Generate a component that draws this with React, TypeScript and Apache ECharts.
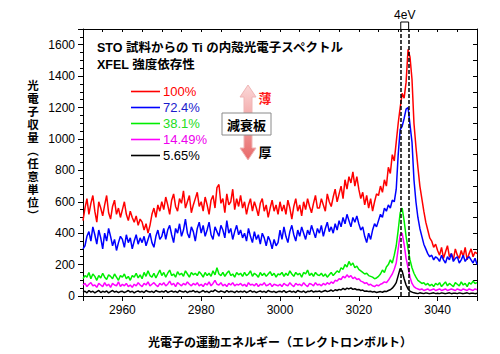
import React, { useEffect, useRef } from "react";
import * as echarts from "echarts";

// Energy grid (eV)
const energyStart = 2950;
const energyStep = 0.5;

// Photoelectron yield for each XFEL intensity
const yield100 = [
  480, 560, 620, 520, 590, 640, 540, 470, 600, 560, 510, 580, 640, 530, 490, 570, 610, 520, 560, 500,
  550, 600, 520, 480, 540, 500, 470, 510, 450, 490, 470, 420, 460, 400, 450, 520, 560, 500, 580, 540,
  600, 550, 630, 580, 520, 610, 650, 570, 540, 620, 590, 670, 560, 600, 640, 530, 580, 620, 660, 570,
  600, 540, 630, 580, 520, 610, 640, 560, 690, 710, 590, 620, 530, 650, 580, 600, 680, 550, 620, 570,
  640, 560, 600, 520, 580, 620, 540, 600, 560, 510, 590, 620, 540, 580, 500, 560, 610, 540, 580, 520,
  600, 540, 580, 520, 610, 560, 490, 570, 620, 540, 580, 510, 600, 550, 620, 570, 530, 590, 640, 560,
  560, 620, 580, 540, 650, 600, 570, 630, 680, 600, 650, 700, 620, 740, 680, 760, 720, 790, 700, 760,
  680, 620, 660, 580, 640, 560, 620, 540, 600, 650, 640, 700, 660, 740, 700, 820, 780, 900, 860, 980,
  1100, 1200, 1290, 1260, 1360, 1570, 1520, 1380, 1100, 950, 820, 700, 620, 540, 470, 420, 370, 350, 310, 330,
  290, 260, 310, 240, 280, 320, 250, 270, 230, 300, 260, 240, 290, 250, 310, 230, 270, 300, 250, 280,
  270,
];
const yield724 = [
  300, 320, 380, 410, 350, 440, 390, 330, 420, 370, 300, 400, 350, 430, 380, 320, 360, 290, 340, 380,
  360, 310, 390, 340, 370, 300, 350, 390, 330, 370, 340, 380, 320, 360, 400, 340, 310, 380, 420, 360,
  380, 430, 360, 420, 450, 390, 340, 430, 400, 460, 380, 420, 490, 400, 370, 440, 410, 350, 430, 470,
  400, 450, 380, 420, 470, 390, 360, 440, 410, 380, 450, 420, 370, 480, 400, 430, 360, 410, 450, 390,
  420, 370, 400, 350, 430, 380, 340, 410, 360, 390, 330, 400, 370, 320, 380, 350, 300, 360, 320, 340,
  420, 360, 440, 380, 340, 410, 450, 390, 350, 420, 380, 440, 400, 360, 420, 390, 450, 410, 370, 430,
  400, 450, 380, 430, 470, 410, 440, 400, 460, 420, 480, 440, 500, 460, 520, 480, 440, 500, 470, 510,
  460, 420, 440, 380, 340, 400, 360, 420, 460, 440, 480, 520, 500, 560, 540, 580, 560, 610, 600, 680,
  900, 1060, 1080, 1130, 1190, 1200, 1090, 980, 740, 600, 500, 430, 380, 330, 300, 270, 250, 260, 230, 250,
  240, 220, 260, 230, 210, 250, 230, 270, 220, 240, 250, 210, 230, 260, 220, 240, 250, 230, 210, 240,
  200,
];
const yield381 = [
  110, 130, 120, 150, 110, 140, 125, 100, 130, 115, 145, 120, 105, 135, 125, 110, 140, 120, 100, 130,
  120, 140, 110, 125, 100, 130, 120, 145, 115, 135, 110, 150, 125, 160, 130, 120, 145, 115, 140, 165,
  130, 150, 120, 145, 165, 130, 140, 120, 155, 135, 145, 125, 160, 140, 120, 150, 135, 145, 130, 155,
  140, 120, 150, 130, 145, 125, 160, 135, 180, 140, 130, 150, 125, 145, 160, 130, 140, 120, 150, 135,
  145, 125, 150, 130, 140, 160, 125, 145, 135, 120, 150, 130, 145, 125, 140, 155, 130, 145, 120, 140,
  135, 150, 125, 145, 130, 160, 140, 125, 150, 135, 145, 120, 150, 140, 165, 130, 145, 125, 150, 135,
  130, 145, 125, 140, 120, 135, 150, 130, 145, 160, 150, 180, 170, 200, 185, 220, 195, 210, 180, 190,
  170, 160, 150, 140, 145, 130, 125, 120, 110, 115, 125, 140, 165, 150, 185, 200, 230, 210, 260, 320,
  420, 530, 560, 480, 380, 300, 230, 180, 145, 120, 100, 90, 80, 85, 70, 80, 65, 75, 60, 80,
  70, 85, 60, 75, 90, 65, 80, 70, 60, 85, 75, 65, 90, 70, 80, 60, 85, 75, 95, 80,
  85,
];
const yield1449 = [
  70, 80, 60, 75, 85, 65, 70, 55, 80, 70, 60, 85, 65, 75, 55, 80, 70, 65, 90, 60,
  75, 65, 80, 60, 70, 55, 75, 65, 85, 70, 60, 80, 70, 90, 65, 75, 85, 70, 60, 80,
  70, 85, 65, 75, 95, 70, 80, 60, 85, 75, 65, 80, 70, 90, 75, 65, 80, 70, 85, 65,
  75, 60, 80, 70, 90, 65, 80, 100, 75, 70, 85, 65, 75, 60, 80, 70, 85, 65, 75, 70,
  80, 65, 75, 60, 85, 70, 75, 65, 80, 60, 75, 70, 85, 65, 70, 80, 60, 75, 70, 65,
  75, 60, 80, 70, 65, 85, 70, 60, 80, 70, 75, 65, 85, 70, 60, 80, 75, 65, 85, 70,
  75, 65, 80, 70, 85, 75, 90, 80, 100, 95, 110, 105, 125, 115, 135, 120, 130, 110, 120, 105,
  110, 95, 90, 80, 85, 70, 75, 65, 60, 70, 65, 75, 80, 90, 85, 100, 120, 140, 170, 210,
  300, 390, 400, 330, 240, 180, 120, 80, 60, 50, 45, 40, 45, 35, 40, 45, 35, 40, 45, 35,
  40, 45, 35, 40, 45, 35, 40, 45, 40, 35, 45, 40, 35, 45, 40, 35, 45, 40, 35, 45,
  40,
];
const yield565 = [
  25, 30, 20, 35, 25, 30, 20, 28, 35, 22, 30, 25, 32, 20, 28, 35, 25, 30, 22, 28,
  30, 22, 28, 35, 25, 30, 20, 28, 32, 25, 30, 22, 35, 28, 25, 30, 22, 35, 28, 25,
  30, 25, 35, 22, 28, 32, 25, 30, 22, 35, 28, 25, 32, 22, 30, 28, 35, 25, 30, 22,
  28, 35, 25, 30, 22, 32, 28, 40, 30, 25, 32, 28, 22, 35, 25, 30, 28, 22, 32, 25,
  30, 25, 32, 22, 28, 35, 25, 30, 22, 28, 32, 25, 30, 22, 35, 28, 25, 30, 22, 28,
  30, 25, 35, 22, 28, 32, 25, 30, 22, 35, 28, 25, 32, 22, 30, 28, 35, 25, 30, 28,
  32, 25, 30, 35, 28, 32, 38, 30, 40, 35, 42, 38, 48, 40, 50, 45, 52, 42, 46, 40,
  42, 35, 38, 30, 32, 28, 30, 25, 28, 22, 25, 28, 24, 30, 28, 35, 40, 50, 65, 85,
  130, 175, 160, 110, 70, 45, 30, 25, 20, 18, 15, 20, 18, 15, 20, 17, 15, 18, 20, 15,
  18, 15, 20, 17, 15, 18, 20, 15, 17, 18, 15, 20, 17, 15, 18, 20, 15, 17, 18, 15,
  17,
];

const seriesNames = ["100%", "72.4%", "38.1%", "14.49%", "5.65%"];
const seriesValues = [yield100, yield724, yield381, yield1449, yield565];
const seriesColors = ["#ff0000", "#0000ff", "#00ee00", "#ff00ff", "#000000"];
const legendTextColors = ["#ff0000", "#1a1acc", "#22dd22", "#ee00ee", "#000000"];

const xTickLabels = [2960, 2980, 3000, 3020, 3040];
const yTickLabels = [0, 200, 400, 600, 800, 1000, 1200, 1400, 1600];
const markEnergies = [3030.65, 3032.65];

const titleLine1 = "STO 試料からの Ti の内殻光電子スペクトル";
const titleLine2 = "XFEL 強度依存性";
const yAxisName = ["光", "電", "子", "収", "量", "︵", "任", "意", "単", "位", "︶"];
const xAxisName = "光電子の運動エネルギー（エレクトロンボルト）";

const CJK = "'Noto Sans CJK JP', 'Noto Sans', sans-serif";
const LATIN = "'Liberation Sans', Arial, sans-serif";
const COMPACT = "'Liberation Sans', 'Noto Sans CJK JP', sans-serif";

export default function App() {
  const ref = useRef<HTMLDivElement>(null);

  useEffect(() => {
    document.body.style.margin = "0";
    if (!ref.current) return;
    const chart = echarts.init(ref.current, undefined, { renderer: "svg" });

    const axisLine = { show: true, onZero: false, lineStyle: { color: "#000", width: 1 } };
    const xBase = { type: "value", min: 2950, max: 3050, splitLine: { show: false } };
    const yBase = { type: "value", min: 0, max: 1700, splitLine: { show: false } };

    const series: any[] = seriesNames.map((name, si) => ({
      name,
      type: "line",
      xAxisIndex: 0,
      yAxisIndex: 0,
      symbol: "none",
      showSymbol: false,
      color: seriesColors[si],
      lineStyle: { color: seriesColors[si], width: 1.5 },
      data: seriesValues[si].map((v, i) => [energyStart + i * energyStep, v]),
      z: 2 + si,
    }));
    series[series.length - 1].markLine = {
      silent: true,
      symbol: ["none", "none"],
      label: { show: false },
      lineStyle: { color: "#000", type: [4, 2], width: 1.5 },
      data: markEnergies.map((x) => ({ xAxis: x })),
      z: 10,
    };

    chart.setOption({
      animation: false,
      grid: { left: 83, right: 23, top: 29, bottom: 58, containLabel: false },
      xAxis: [
        {
          ...xBase,
          position: "bottom",
          interval: 5,
          axisLine,
          axisTick: { show: true, length: 3, lineStyle: { color: "#000" } },
          axisLabel: {
            show: true,
            margin: 8,
            fontSize: 12,
            color: "#000",
            fontFamily: LATIN,
            formatter: (v: number) => (xTickLabels.includes(v) ? String(v) : ""),
          },
          name: xAxisName,
          nameLocation: "middle",
          nameGap: 39,
          nameTextStyle: { fontSize: 12, fontWeight: "bold", color: "#000", fontFamily: CJK },
        },
        {
          ...xBase,
          position: "bottom",
          splitNumber: 5,
          axisLine: { show: false, onZero: false },
          axisTick: { show: true, length: 5, lineStyle: { color: "#000" } },
          axisLabel: { show: false },
        },
        {
          ...xBase,
          position: "top",
          interval: 5,
          axisLine,
          axisTick: { show: true, inside: true, length: 3, lineStyle: { color: "#000" } },
          axisLabel: { show: false },
        },
      ],
      yAxis: [
        {
          ...yBase,
          position: "left",
          interval: 50,
          axisLine,
          axisTick: { show: true, length: 3, lineStyle: { color: "#000" } },
          axisLabel: {
            show: true,
            margin: 8,
            fontSize: 12,
            color: "#000",
            fontFamily: LATIN,
            formatter: (v: number) => (yTickLabels.includes(v) ? String(v) : ""),
          },
        },
        {
          ...yBase,
          position: "left",
          interval: 200,
          axisLine: { show: false, onZero: false },
          axisTick: { show: true, length: 5, lineStyle: { color: "#000" } },
          axisLabel: { show: false },
        },
        {
          ...yBase,
          position: "right",
          interval: 100,
          axisLine,
          axisTick: { show: true, inside: true, length: 4, lineStyle: { color: "#000" } },
          axisLabel: { show: false },
        },
      ],
      legend: {
        orient: "vertical",
        left: 126,
        top: 80,
        padding: 5,
        icon: "rect",
        itemWidth: 29,
        itemHeight: 1.6,
        itemGap: 3,
        selectedMode: false,
        textStyle: { fontSize: 13, fontFamily: LATIN, lineHeight: 13, padding: [0, 0, 0, -2] },
        data: seriesNames.map((n, i) => ({ name: n, textStyle: { color: legendTextColors[i] } })),
      },
      series,
    });

    const xa = chart.convertToPixel({ xAxisIndex: 0 }, markEnergies[0]) as number;
    const xb = chart.convertToPixel({ xAxisIndex: 0 }, markEnergies[1]) as number;
    const yTop = chart.convertToPixel({ yAxisIndex: 0 }, 1700) as number;

    const cx = 248;
    const nameTop = 86;
    const nameStep = 13;
    chart.setOption({
      graphic: [
        {
          type: "text",
          x: 97,
          y: 48,
          style: { text: titleLine1, font: `bold 12.5px ${COMPACT}`, fill: "#000", verticalAlign: "middle" },
        },
        {
          type: "text",
          x: 97,
          y: 65,
          style: { text: titleLine2, font: `bold 12.5px ${COMPACT}`, fill: "#000", verticalAlign: "middle" },
        },
        {
          type: "polygon",
          shape: {
            points: [
              [cx, 85], [cx + 8, 97], [cx + 4, 97], [cx + 4, 148], [cx + 8, 148],
              [cx, 160], [cx - 8, 148], [cx - 4, 148], [cx - 4, 97], [cx - 8, 97],
            ],
          },
          style: {
            fill: {
              type: "linear", x: 0, y: 0, x2: 0, y2: 1,
              colorStops: [
                { offset: 0, color: "#fbd9d9" },
                { offset: 1, color: "#e86868" },
              ],
            },
            stroke: "#efb5b5",
            lineWidth: 1,
          },
          z: 50,
        },
        {
          type: "rect",
          shape: { x: 222, y: 113, width: 49, height: 22 },
          style: { fill: "#fff", stroke: "#8a8a8a", lineWidth: 1 },
          z: 51,
        },
        {
          type: "text",
          x: 246.5,
          y: 124.5,
          style: { text: "減衰板", font: `bold 13px ${CJK}`, fill: "#000", align: "center", verticalAlign: "middle" },
          z: 52,
        },
        {
          type: "text",
          x: 265,
          y: 97,
          style: { text: "薄", font: `bold 13px ${CJK}`, fill: "#ff1a1a", align: "center", verticalAlign: "middle" },
          z: 52,
        },
        {
          type: "text",
          x: 265,
          y: 151,
          style: { text: "厚", font: `bold 13px ${CJK}`, fill: "#000", align: "center", verticalAlign: "middle" },
          z: 52,
        },
        ...yAxisName.map((ch, i) => ({
          type: "text",
          x: 33,
          y: nameTop + i * nameStep,
          style: {
            text: ch,
            font: `bold 11.5px ${COMPACT}`,
            fill: "#000",
            align: "center",
            verticalAlign: "middle",
          },
        })),
        {
          type: "polyline",
          shape: { points: [[xa, yTop], [xa, yTop - 7], [xb, yTop - 7], [xb, yTop]] },
          style: { stroke: "#000", lineWidth: 1, fill: "none" },
        },
        {
          type: "text",
          x: (xa + xb) / 2,
          y: yTop - 14,
          style: { text: "4eV", font: `12px ${LATIN}`, fill: "#000", align: "center", verticalAlign: "middle" },
        },
      ],
    });

    return () => chart.dispose();
  }, []);

  return <div ref={ref} style={{ width: 500, height: 354 }} />;
}
